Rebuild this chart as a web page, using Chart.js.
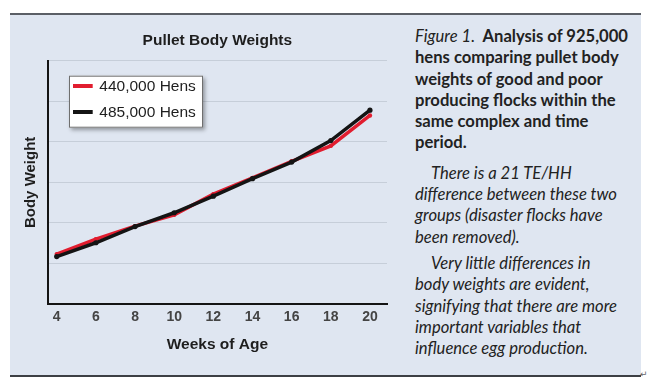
<!DOCTYPE html>
<html>
<head>
<meta charset="utf-8">
<script src="https://cdn.jsdelivr.net/npm/chart.js@4.4.1/dist/chart.umd.min.js"></script>
<style>
  html, body { margin: 0; padding: 0; background: #ffffff; width: 658px; height: 385px; overflow: hidden; }
  #panel { position: absolute; left: 10px; top: 13px; width: 631px; height: 360px;
           background: #dfe6f1; border-top: 2px solid #5b5f66; border-bottom: 2px solid #3c3f44; }
  #wrap { position: absolute; left: 10px; top: 15px; width: 395px; height: 360px; }
  #txt { position: absolute; left: 415px; top: 26px; font-family: Lato, 'Open Sans', sans-serif;
         font-size: 16.6px; line-height: 21.3px; color: #222222; white-space: nowrap; }
  #txt p { margin: 0; }
  #txt .p1 { font-weight: bold; }
  #txt .p1 i { font-weight: normal; }
  #txt .p2 { font-style: italic; margin-top: 9px; text-indent: 16px; }
  #txt .p3 { font-style: italic; margin-top: 5px; text-indent: 16px; }
  #mark { position: absolute; left: 640px; top: 369px; font-size: 9px; color: #666; font-family: 'DejaVu Sans', sans-serif; }
</style>
</head>
<body>
<div id="panel"></div>
<div id="wrap"><canvas id="c" width="395" height="360"></canvas></div>
<div id="txt">
  <p class="p1"><i>Figure 1.</i>&nbsp; Analysis of 925,000<br>hens comparing pullet body<br>weights of good and poor<br>producing flocks within the<br>same complex and time<br>period.</p>
  <p class="p2">There is a 21 TE/HH<br>difference between these two<br>groups (disaster flocks have<br>been removed).</p>
  <p class="p3">Very little differences in<br>body weights are evident,<br>signifying that there are more<br>important variables that<br>influence egg production.</p>
</div>
<div id="mark">↵</div>
<script>
const weeks = [4, 6, 8, 10, 12, 14, 16, 18, 20];
const hens440 = [1.23, 1.60, 1.92, 2.20, 2.71, 3.11, 3.52, 3.90, 4.65];
const hens485 = [1.17, 1.51, 1.91, 2.25, 2.66, 3.09, 3.50, 4.03, 4.78];
const seriesLabels = ['440,000 Hens', '485,000 Hens'];
const seriesColors = ['#e11d2f', '#141414'];

const FONT = "'Liberation Sans', Arial, Helvetica, sans-serif";

const legendBox = {
  id: 'legendBox',
  afterDatasetsDraw(chart) {
    const ctx = chart.ctx;
    const a = chart.chartArea;
    const x = a.left + 21.3, y = a.top + 15, w = 134, h = 52;
    ctx.save();
    ctx.shadowColor = 'rgba(0,0,0,0.35)';
    ctx.shadowBlur = 4;
    ctx.shadowOffsetX = 2;
    ctx.shadowOffsetY = 2;
    ctx.fillStyle = '#ffffff';
    ctx.fillRect(x, y, w, h);
    ctx.restore();
    ctx.save();
    ctx.strokeStyle = '#6f6f6f';
    ctx.lineWidth = 1;
    ctx.strokeRect(x + 0.5, y + 0.5, w - 1, h - 1);
    chart.data.datasets.forEach((ds, i) => {
      const ly = y + 10.3 + i * 26;
      ctx.strokeStyle = ds.borderColor;
      ctx.lineWidth = 4;
      ctx.beginPath();
      ctx.moveTo(x + 4, ly);
      ctx.lineTo(x + 23.7, ly);
      ctx.stroke();
      ctx.fillStyle = '#1e1e1e';
      ctx.font = '15.5px ' + FONT;
      ctx.textBaseline = 'middle';
      ctx.fillText(ds.label, x + 30.3, ly + 0.5);
    });
    ctx.restore();
  }
};

new Chart(document.getElementById('c'), {
  type: 'line',
  data: {
    datasets: [
      {
        label: seriesLabels[0],
        data: weeks.map((w, i) => ({ x: w, y: hens440[i] })),
        borderColor: seriesColors[0],
        backgroundColor: seriesColors[0],
        borderWidth: 3.5,
        pointRadius: 2.2,
        pointBorderWidth: 0,
        tension: 0,
        order: 1
      },
      {
        label: seriesLabels[1],
        data: weeks.map((w, i) => ({ x: w, y: hens485[i] })),
        borderColor: seriesColors[1],
        backgroundColor: seriesColors[1],
        borderWidth: 3.5,
        pointRadius: 2.6,
        pointBorderWidth: 0,
        tension: 0,
        order: 0
      }
    ]
  },
  options: {
    responsive: false,
    animation: false,
    devicePixelRatio: 1,
    layout: { padding: { top: 0, right: 18, left: 0, bottom: 0 } },
    plugins: {
      legend: { display: false },
      tooltip: { enabled: false },
      title: {
        display: true,
        text: 'Pullet Body Weights',
        fullSize: false,
        color: '#1e1e1e',
        font: { family: FONT, size: 15.5, weight: 'bold' },
        padding: { top: 16.7, bottom: 10.4 }
      }
    },
    scales: {
      x: {
        type: 'linear',
        min: 3.54,
        max: 20.87,
        afterBuildTicks: (s) => { s.ticks = weeks.map(v => ({ value: v })); },
        afterFit: (s) => { s.height = 71; },
        grid: { display: false, drawTicks: false },
        border: { display: true, color: '#141414', width: 2 },
        ticks: { color: '#444444', padding: 5, font: { family: FONT, size: 14, weight: 'bold' } },
        title: {
          display: true,
          text: 'Weeks of Age',
          color: '#1e1e1e',
          font: { family: FONT, size: 15.5, weight: 'bold' },
          padding: { top: 0, bottom: 20.7 }
        }
      },
      y: {
        min: 0,
        max: 6,
        afterFit: (s) => { s.width = 37.7; },
        ticks: { display: false, stepSize: 1 },
        grid: { color: '#c6ced9', lineWidth: 1, drawTicks: false },
        border: { display: true, color: '#141414', width: 2 },
        title: {
          display: true,
          text: 'Body Weight',
          color: '#1e1e1e',
          font: { family: FONT, size: 15, weight: 'bold' },
          padding: { top: 11.6, bottom: 0 }
        }
      }
    }
  },
  plugins: [legendBox]
});
</script>
</body>
</html>
